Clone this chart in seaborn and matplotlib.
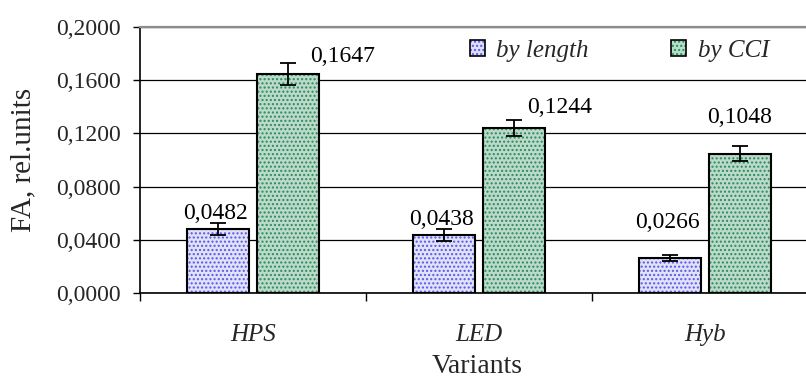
import numpy as np
import pandas as pd
import seaborn as sns
import matplotlib
matplotlib.use("Agg")
import matplotlib.pyplot as plt
from matplotlib.patches import Rectangle, Patch
from matplotlib.legend_handler import HandlerTuple
from matplotlib.ticker import FixedLocator, FuncFormatter

# ---------------- data ----------------
variants = ["HPS", "LED", "Hyb"]
series = ["by length", "by CCI"]
by_length = [0.0482, 0.0438, 0.0266]
by_cci = [0.1647, 0.1244, 0.1048]
err_length = [0.0047, 0.0045, 0.0022]
err_cci = [0.0080, 0.0060, 0.0056]
yticks = [0.0, 0.04, 0.08, 0.12, 0.16, 0.20]
value_labels_length = ["0,0482", "0,0438", "0,0266"]
value_labels_cci = ["0,1647", "0,1244", "0,1048"]
# label offsets (style)
label_dx = [[-0.01, -0.01, -0.013], [0.24, 0.20, 0.0]]
label_dy = [[0.0076, 0.0076, 0.0225], [0.0092, 0.0111, 0.0232]]

face_colors = ["#dedefa", "#b8dec9"]
dot_colors = ["#5656ee", "#278c5b"]

sns.set_theme(style="white")
plt.rcParams["font.family"] = ["Liberation Serif", "DejaVu Serif"]
plt.rcParams["hatch.linewidth"] = 1.0

df = pd.DataFrame({
    "Variant": variants * 2,
    "Series": [series[0]] * 3 + [series[1]] * 3,
    "FA": by_length + by_cci,
})

fig = plt.figure(figsize=(8.06, 3.78), dpi=100)
ax = fig.add_axes([140 / 806, 85 / 378, 678 / 806, 266 / 378])

sns.barplot(data=df, x="Variant", y="FA", hue="Series", hue_order=series,
            order=variants, palette=face_colors, width=0.62, gap=0.116,
            errorbar=None, legend=False, ax=ax, zorder=2)

values = [by_length, by_cci]
errs = [err_length, err_cci]
labels = [value_labels_length, value_labels_cci]
bar_containers = list(ax.containers)
for i, cont in enumerate(bar_containers):
    xs = []
    for j, bar in enumerate(cont.patches):
        bar.set_hatch("....")
        bar.set_edgecolor(dot_colors[i])
        bar.set_linewidth(0)
        ax.add_patch(Rectangle(bar.get_xy(), bar.get_width(), bar.get_height(),
                               fill=False, edgecolor="black", lw=1.5, zorder=3))
        xc = bar.get_x() + bar.get_width() / 2
        xs.append(xc)
        ax.text(xc + label_dx[i][j], values[i][j] + label_dy[i][j], labels[i][j],
                ha="center", va="baseline", fontsize=17, color="black", zorder=6)
    ax.errorbar(xs, values[i], yerr=errs[i], fmt="none", ecolor="black",
                elinewidth=1.3, capsize=5.8, capthick=1.3, zorder=5)

ax.set_xlim(-0.5, 2.5)
ax.set_ylim(0, 0.2)
ax.yaxis.set_major_locator(FixedLocator(yticks))
ax.yaxis.set_major_formatter(FuncFormatter(lambda v, p: f"{v:.4f}".replace(".", ",")))
ax.xaxis.set_minor_locator(FixedLocator([-0.5, 0.5, 1.5, 2.5]))

ax.yaxis.grid(True, color="black", lw=0.9)
ax.set_axisbelow(True)

ax.tick_params(axis="y", which="major", direction="out", length=5, width=1,
               color="black", labelsize=17, pad=9, left=True)
ax.tick_params(axis="x", which="major", length=0, labelsize=18, pad=22)
ax.tick_params(axis="x", which="minor", direction="out", length=6, width=1,
               color="black", bottom=True)
for t in ax.get_xticklabels():
    t.set_fontstyle("italic")

for s in ["left", "bottom"]:
    ax.spines[s].set_color("black")
    ax.spines[s].set_linewidth(1.2)
ax.spines["top"].set_color("#8c8c8c")
ax.spines["top"].set_linewidth(1.6)
ax.spines["right"].set_visible(False)

ax.set_xlabel("Variants", fontsize=20)
ax.set_ylabel("FA, rel.units", fontsize=21)
ax.xaxis.set_label_coords(0.497, -0.228)
ax.yaxis.set_label_coords(-0.172, 0.5)
ax.yaxis.label.set_va("center")

handles = []
for i in range(2):
    h1 = Patch(facecolor=face_colors[i], edgecolor=dot_colors[i], hatch="....", lw=0)
    h2 = Patch(facecolor="none", edgecolor="black", lw=1.2)
    handles.append((h1, h2))
leg = ax.legend(handles, series, handler_map={tuple: HandlerTuple(ndivide=1)},
                loc="upper left", bbox_to_anchor=(470 / 806, 1 - 40 / 378),
                bbox_transform=fig.transFigure, ncol=2, frameon=False,
                handlelength=0.6, handleheight=0.6, handletextpad=0.45,
                columnspacing=3.3, borderpad=0, borderaxespad=0,
                prop={"family": "Liberation Serif", "style": "italic", "size": 18})

fig.savefig("out.png", dpi=100)
